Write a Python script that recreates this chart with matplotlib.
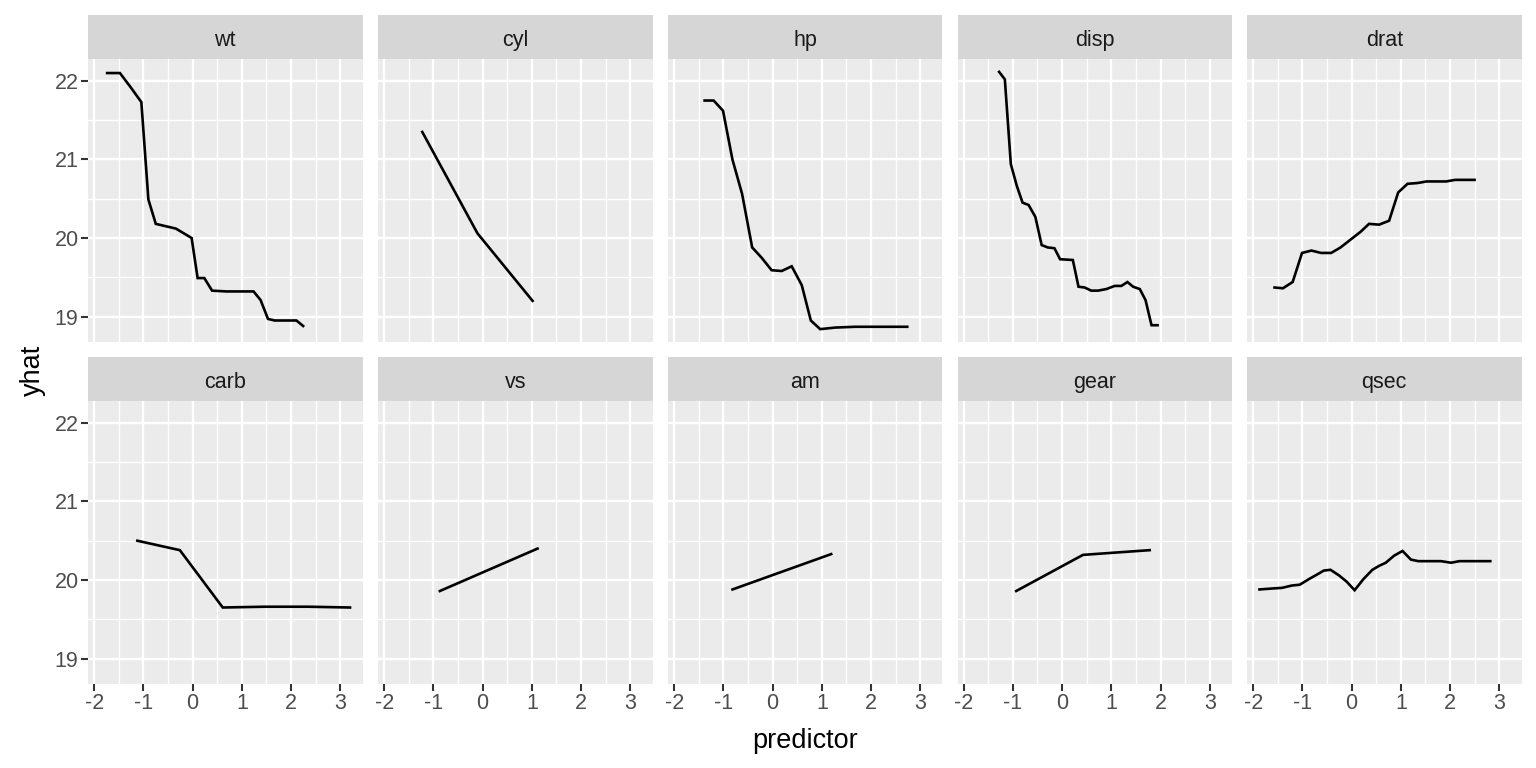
import matplotlib
matplotlib.use("Agg")
import matplotlib.pyplot as plt
from matplotlib.ticker import MultipleLocator

plt.rcParams['font.family'] = ['Liberation Sans', 'DejaVu Sans']
plt.rcParams['axes.unicode_minus'] = False

panels = ["wt", "cyl", "hp", "disp", "drat", "carb", "vs", "am", "gear", "qsec"]

wt_x = [-1.735, -1.476, -1.259, -1.041, -0.898, -0.748, -0.340, -0.020, 0.102, 0.238,
        0.395, 0.680, 1.238, 1.381, 1.531, 1.667, 2.109, 2.245]
wt_y = [22.10, 22.10, 21.92, 21.73, 20.49, 20.18, 20.12, 20.00, 19.49, 19.49,
        19.33, 19.32, 19.32, 19.21, 18.97, 18.95, 18.95, 18.88]

cyl_x = [-1.225, -0.105, 1.015]
cyl_y = [21.35, 20.06, 19.20]

hp_x = [-1.381, -1.197, -1.007, -0.816, -0.619, -0.415, -0.224, -0.020, 0.184, 0.388,
        0.592, 0.776, 0.966, 1.272, 1.680, 2.100, 2.735]
hp_y = [21.75, 21.75, 21.62, 21.00, 20.56, 19.88, 19.75, 19.59, 19.58, 19.64,
        19.40, 18.95, 18.84, 18.86, 18.87, 18.87, 18.87]

disp_x = [-1.279, -1.163, -1.041, -0.918, -0.803, -0.680, -0.544, -0.415, -0.293, -0.156,
          -0.041, 0.218, 0.333, 0.456, 0.592, 0.728, 0.898, 1.068, 1.204, 1.327,
          1.442, 1.578, 1.694, 1.816, 1.939]
disp_y = [22.115, 22.02, 20.94, 20.66, 20.45, 20.42, 20.27, 19.91, 19.88, 19.87,
          19.73, 19.72, 19.38, 19.37, 19.33, 19.33, 19.35, 19.39, 19.39, 19.44,
          19.38, 19.35, 19.21, 18.89, 18.89]

drat_x = [-1.565, -1.395, -1.197, -1.007, -0.816, -0.619, -0.415, -0.224, -0.020, 0.184,
          0.354, 0.558, 0.762, 0.946, 1.136, 1.340, 1.524, 1.918, 2.102, 2.497]
drat_y = [19.37, 19.36, 19.44, 19.81, 19.84, 19.81, 19.81, 19.88, 19.98, 20.08,
          20.18, 20.17, 20.22, 20.58, 20.69, 20.70, 20.72, 20.72, 20.74, 20.74]

carb_x = [-1.122, -0.259, 0.612, 1.463, 2.347, 3.197]
carb_y = [20.50, 20.38, 19.65, 19.66, 19.66, 19.65]

vs_x = [-0.868, 1.116]
vs_y = [19.86, 20.40]

am_x = [-0.814, 1.190]
am_y = [19.88, 20.33]

gear_x = [-0.932, 0.424, 1.779]
gear_y = [19.86, 20.32, 20.38]

qsec_x = [-1.871, -1.653, -1.415, -1.211, -1.054, -0.871, -0.701, -0.565, -0.429, -0.259,
          -0.102, 0.061, 0.238, 0.422, 0.558, 0.694, 0.864, 1.034, 1.204, 1.354,
          1.544, 1.816, 2.020, 2.190, 2.497, 2.816]
qsec_y = [19.88, 19.89, 19.90, 19.93, 19.94, 20.01, 20.07, 20.12, 20.13, 20.06,
          19.98, 19.87, 20.01, 20.13, 20.18, 20.22, 20.31, 20.37, 20.26, 20.24,
          20.24, 20.24, 20.22, 20.24, 20.24, 20.24]

data = {
    "wt": (wt_x, wt_y), "cyl": (cyl_x, cyl_y), "hp": (hp_x, hp_y),
    "disp": (disp_x, disp_y), "drat": (drat_x, drat_y), "carb": (carb_x, carb_y),
    "vs": (vs_x, vs_y), "am": (am_x, am_y), "gear": (gear_x, gear_y),
    "qsec": (qsec_x, qsec_y),
}

x_ticks = [-2, -1, 0, 1, 2, 3]
y_ticks = [19, 20, 21, 22]

allx = [v for k in panels for v in data[k][0]]
ally = [v for k in panels for v in data[k][1]]
xr = max(allx) - min(allx)
yr = max(ally) - min(ally)
xlim = (min(allx) - 0.05 * xr, max(allx) + 0.05 * xr)
ylim = (min(ally) - 0.05 * yr, max(ally) + 0.05 * yr)

W, H = 1536, 768
fig = plt.figure(figsize=(W / 100, H / 100), dpi=100)

lefts = [88, 378, 668, 957.5, 1247]
pw = 274.5
rows = [(59, 342, 15), (401, 684, 357)]  # panel top, panel bottom, strip top

for i, name in enumerate(panels):
    r, c = divmod(i, 5)
    ptop, pbot, stop = rows[r]
    l = lefts[c]
    ax = fig.add_axes([l / W, 1 - pbot / H, pw / W, (pbot - ptop) / H])
    ax.set_facecolor("#EBEBEB")
    for s in ax.spines.values():
        s.set_visible(False)
    ax.set_xlim(*xlim)
    ax.set_ylim(*ylim)
    ax.xaxis.set_major_locator(MultipleLocator(1))
    ax.xaxis.set_minor_locator(MultipleLocator(0.5))
    ax.yaxis.set_major_locator(MultipleLocator(1))
    ax.yaxis.set_minor_locator(MultipleLocator(0.5))
    ax.grid(which="major", color="white", lw=1.7)
    ax.grid(which="minor", color="white", lw=0.95)
    ax.set_axisbelow(True)
    ax.tick_params(which="minor", length=0)
    ax.tick_params(which="major", length=4.8, width=1.5, color="#333333",
                   labelsize=15.5, labelcolor="#4D4D4D", pad=2)
    ax.set_xticks(x_ticks)
    ax.set_yticks(y_ticks)
    if r == 0:
        ax.tick_params(axis="x", length=0, labelbottom=False)
    if c != 0:
        ax.tick_params(axis="y", length=0, labelleft=False)
    x, y = data[name]
    ax.plot(x, y, color="black", lw=1.9, solid_joinstyle="miter")
    # strip
    sax = fig.add_axes([l / W, 1 - ptop / H, pw / W, (ptop - stop) / H])
    sax.set_facecolor("#D6D6D6")
    sax.set_xticks([]); sax.set_yticks([])
    for s in sax.spines.values():
        s.set_visible(False)
    sax.text(0.5, 0.42, name, ha="center", va="center", fontsize=15.5,
             color="#1A1A1A", transform=sax.transAxes)

fig.text(805 / W, 1 - 741 / H, "predictor", ha="center", va="center", fontsize=19.5, color="black")
fig.text(33 / W, 1 - 370 / H, "yhat", ha="center", va="center", rotation=90, fontsize=19.5, color="black")

fig.savefig("out.png", dpi=100, facecolor="white")
